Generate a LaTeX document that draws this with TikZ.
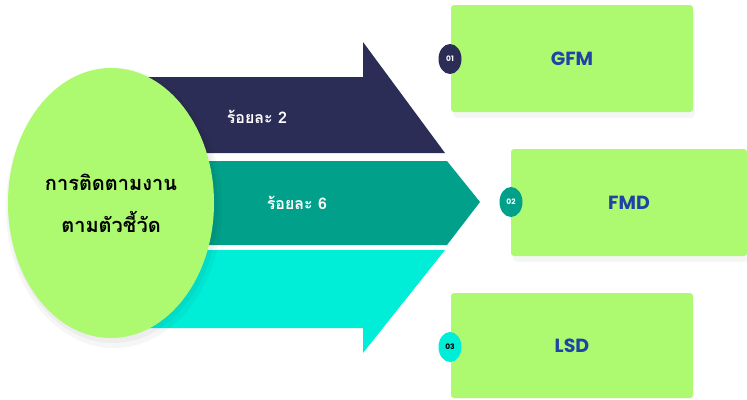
\documentclass[tikz,border=0pt]{standalone}
\usepackage{fontspec}
\setmainfont{Poppins}
\newfontfamily\thaifont[Script=Thai]{Loma}
\usetikzlibrary{shapes.geometric}
\definecolor{navy}{HTML}{2B2D56}
\definecolor{teal2}{HTML}{00A08A}
\definecolor{cyan2}{HTML}{00EED8}
\definecolor{lgreen}{HTML}{ADFA70}
\definecolor{tblue}{HTML}{1F43A6}
\tikzset{
  box/.style={rectangle, rounded corners=3pt, fill=lgreen, inner sep=0pt, text=tblue, font=\fontsize{19}{22}\selectfont\bfseries},
  badge/.style={ellipse, inner sep=0pt, minimum width=23pt, minimum height=30pt, font=\fontsize{7.5}{8}\selectfont\bfseries},
  pct/.style={text=white, font=\thaifont\fontsize{16}{18}\selectfont\bfseries},
  shade/.style={fill=black, opacity=0.035}
}
\begin{document}
\begin{tikzpicture}[x=1pt,y=-1pt]
\useasboundingbox (0,0) rectangle (747,399);
\fill[white] (0,0) rectangle (747,399);
% arrows
\fill[navy] (140,77) -- (363,77) -- (363,42) -- (445,153) -- (140,153) -- cycle;
\fill[teal2] (140,161) -- (447,161) -- (480,202) -- (447,245) -- (140,245) -- cycle;
\fill[cyan2] (140,250) -- (445,250) -- (363,353) -- (363,328) -- (140,328) -- cycle;
\node[pct] (p2) at (257,117) {ร้อยละ 2};
\node[pct] (p6) at (297,203) {ร้อยละ 6};
% hub
\fill[shade] (114,208) ellipse [x radius=108, y radius=140];
\fill[shade] (113,206) ellipse [x radius=105, y radius=137];
\node[ellipse, fill=lgreen, minimum width=206pt, minimum height=270pt, inner sep=0pt, align=center,
  font=\thaifont\fontsize{20}{42}\selectfont\bfseries] (hub) at (111,203) {การติดตามงาน\\ตามตัวชี้วัด};
% boxes
\fill[shade, rounded corners=4pt] (453,10) rectangle (695,118);
\fill[shade, rounded corners=4pt] (513,154) rectangle (749,262);
\node[box, minimum width=242pt, minimum height=107pt] (gfm) at (572,58.5) {GFM};
\node[box, minimum width=236pt, minimum height=107pt] (fmd) at (629,202.5) {FMD};
\node[box, minimum width=242pt, minimum height=105pt] (lsd) at (572,345.5) {LSD};
\node[badge, fill=navy, text=white] (b1) at (450,59) {01};
\node[badge, fill=teal2, text=white] (b2) at (511,202) {02};
\node[badge, fill=cyan2, text=black] (b3) at (450,347) {03};
\end{tikzpicture}
\end{document}
